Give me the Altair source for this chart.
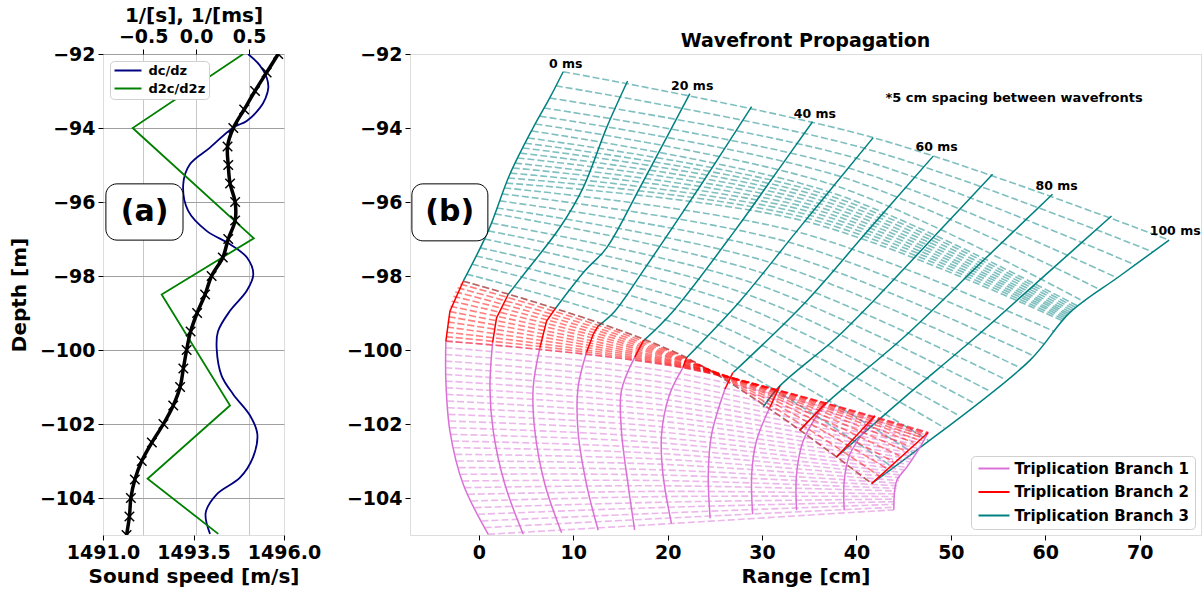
import altair as alt
import pandas as pd

FONT = "DejaVu Sans"

# ---------------- Panel (a) data ----------------
speed_depth = [-92.0, -92.5, -93.0, -93.5, -94.0, -94.5, -95.0, -95.5, -96.0, -96.5, -97.0, -97.5,
               -98.0, -98.5, -99.0, -99.5, -100.0, -100.5, -101.0, -101.5, -102.0, -102.5, -103.0,
               -103.5, -104.0, -104.5, -105.0]
speed_vals = [1495.84, 1495.52, 1495.2, 1494.9, 1494.6, 1494.44, 1494.46, 1494.51, 1494.65, 1494.65,
              1494.46, 1494.31, 1494.0, 1493.82, 1493.6, 1493.42, 1493.31, 1493.22, 1493.13, 1492.94,
              1492.67, 1492.35, 1492.07, 1491.88, 1491.77, 1491.73, 1491.65]

dc_depth = [-92.0, -92.3, -92.64, -92.91, -93.2, -93.45, -93.81, -93.99, -94.53, -94.98, -95.52, -96.24,
            -96.78, -97.14, -97.5, -97.95, -98.4, -98.94, -99.5, -99.97, -100.7, -101.2, -101.77,
            -102.27, -102.9, -103.45, -103.9, -104.4, -104.97]
dc_vals = [0.49, 0.60, 0.667, 0.682, 0.655, 0.604, 0.478, 0.348, 0.131, -0.059, -0.122, -0.075,
           0.099, 0.32, 0.48, 0.54, 0.478, 0.32, 0.206, 0.194, 0.241, 0.351, 0.509,
           0.578, 0.537, 0.414, 0.194, 0.09, 0.131]

d2_depth = [-92.0, -94.0, -96.98, -98.5, -101.5, -103.48, -104.97]
d2_vals = [0.445, -0.60, 0.545, -0.326, 0.32, -0.459, 0.209]

series_names = ["dc/dz", "d2c/d2z"]
series_colors = ["navy", "green"]

# ---------------- Panel (b) data ----------------
teal_wf_x = [[8.93, 7.52, 5.75, 3.28, 0.99, -1.66], [15.75, 13.53, 11.05, 8.58, 5.05, 3.1],
             [22.35, 19.88, 17.06, 13.53, 11.23, 8.05], [28.89, 23.1, 17.4, 14.4, 12.64],
             [35.35, 31.89, 27.1, 20.58, 17.4], [41.77, 33.7, 27.65, 22.0], [48.13, 41.2, 34.7, 26.94],
             [54.42, 48.8, 41.77, 37.89, 31.89, 30.12], [60.77, 53.4, 44.95, 36.9, 34.0],
             [67.02, 60.5, 52.54, 45.0, 37.89], [73.12, 67.9, 62.6, 58.37, 46.0, 41.6]]
teal_wf_d = [[-92.48, -93.18, -93.99, -95.25, -96.78, -98.14], [-92.73, -93.99, -95.61, -96.69, -97.86, -98.5],
             [-93.07, -94.26, -95.61, -97.24, -97.86, -98.9], [-93.42, -95.7, -97.86, -98.95, -99.35],
             [-93.83, -95.07, -96.78, -98.95, -99.76], [-94.26, -96.78, -98.68, -100.21],
             [-94.76, -96.78, -98.68, -100.61], [-95.25, -96.78, -98.68, -99.67, -100.97, -101.54],
             [-95.79, -97.59, -99.67, -101.42, -102.17], [-96.38, -97.86, -99.67, -101.3, -102.89],
             [-97.03, -98.0, -98.99, -100.28, -102.78, -103.61]]

pink_wf_x = [[0.99, -1.66, -3.07, -3.5, -3.5], [4.7, 2.75, 1.52, 1.17, 1.45], [8.76, 6.99, 5.93, 5.75, 6.46],
             [12.64, 11.4, 10.5, 10.5, 11.4], [16.5, 15.8, 15.1, 15.1, 16.5], [20.4, 19.5, 19.35, 20.2, 21.6],
             [24.5, 24.3, 24.65, 26.06], [29.0, 28.9, 29.4, 30.8], [33.65, 33.65, 34.35, 36.1, 36.8],
             [38.7, 38.7, 39.3, 41.07, 41.95], [43.96, 44.25, 45.3, 46.7, 47.6]]
pink_wf_d = [[-104.98, -103.63, -102.19, -100.84, -99.76], [-104.98, -103.63, -102.19, -101.02, -99.8],
             [-104.94, -103.63, -102.19, -101.02, -99.94], [-104.87, -103.63, -102.19, -101.02, -100.07],
             [-104.86, -103.63, -102.19, -101.1, -100.2], [-104.69, -103.36, -102.28, -101.2, -100.48],
             [-104.55, -103.36, -102.28, -101.06], [-104.44, -103.36, -102.46, -101.56],
             [-104.33, -103.36, -102.46, -101.65, -101.42], [-104.33, -103.54, -102.82, -102.1, -101.78],
             [-104.32, -103.54, -103.18, -102.64, -102.23]]

red_wf_x = [[-3.5, -3.07, -1.66], [1.45, 1.87, 3.1], [6.46, 7.17, 8.05], [11.4, 12.1, 12.64], [16.5, 17.4],
            [21.6, 22.0], [26.06, 26.9], [30.8, 31.9], [36.8, 34.0], [41.95, 37.89], [47.6, 41.6]]
red_wf_d = [[-99.76, -98.95, -98.14], [-99.8, -99.13, -98.5], [-99.94, -99.22, -98.9], [-100.07, -99.58, -99.35],
            [-100.2, -99.76], [-100.48, -100.21], [-101.06, -100.61], [-101.56, -100.97], [-101.42, -102.17],
            [-101.78, -102.89], [-102.23, -103.61]]

# rays: positions at 0 ms, 50 ms and 100 ms
teal_x0 = [8.93, 8.15, 7.5, 6.9, 6.45, 6.0, 5.6, 5.2, 4.9, 4.65, 4.4, 4.1, 3.85, 3.6, 3.35, 3.1, 2.9, 2.7,
           2.45, 2.2, 1.9, 1.7, 1.35, 1.0, 0.6, 0.15, -0.3, -0.75, -1.3, -1.66]
teal_d0 = [-92.48, -92.86, -93.19, -93.46, -93.68, -93.89, -94.08, -94.27, -94.41, -94.54, -94.68, -94.81,
           -94.95, -95.08, -95.22, -95.35, -95.49, -95.62, -95.78, -95.97, -96.16, -96.32, -96.57, -96.78,
           -97.0, -97.24, -97.46, -97.68, -97.95, -98.14]
teal_x5 = [41.77, 40.85, 40.0, 39.15, 38.4, 37.65, 37.05, 36.8, 36.55, 36.3, 36.05, 35.8, 35.55, 35.3, 35.05,
           34.8, 34.55, 33.65, 32.75, 31.85, 30.95, 30.05, 29.15, 28.25, 27.35, 26.35, 25.35, 24.25, 23.1, 22.0]
teal_d5 = [-94.26, -94.55, -94.82, -95.08, -95.32, -95.55, -95.72, -95.8, -95.88, -95.96, -96.04, -96.12,
           -96.2, -96.28, -96.36, -96.44, -96.52, -96.8, -97.08, -97.36, -97.64, -97.92, -98.2, -98.48,
           -98.76, -99.04, -99.32, -99.62, -99.92, -100.21]
teal_x10 = [73.12, 71.4, 69.5, 67.6, 65.9, 64.15, 63.5, 63.3, 63.1, 62.9, 62.7, 62.55, 62.45, 62.3, 62.2,
            62.05, 61.9, 60.95, 59.85, 58.75, 57.35, 55.8, 54.2, 52.55, 50.9, 49.3, 47.6, 46.0, 43.9, 41.6]
teal_d10 = [-97.03, -97.35, -97.7, -98.05, -98.38, -98.7, -98.82, -98.86, -98.9, -98.94, -98.98, -99.02,
            -99.06, -99.1, -99.14, -99.18, -99.22, -99.5, -99.83, -100.16, -100.48, -100.8, -101.12, -101.45,
            -101.78, -102.1, -102.44, -102.78, -103.18, -103.61]

red_x0 = [-1.66, -1.95, -2.25, -2.5, -2.7, -2.88, -3.02, -3.1, -3.2, -3.3, -3.38, -3.44, -3.48, -3.5]
red_d0 = [-98.14, -98.22, -98.32, -98.43, -98.55, -98.68, -98.82, -98.96, -99.1, -99.24, -99.38, -99.52,
          -99.64, -99.76]
red_x5 = [22.0, 21.97, 21.94, 21.91, 21.88, 21.85, 21.82, 21.78, 21.75, 21.72, 21.69, 21.66, 21.63, 21.6]
red_d5 = [-100.21, -100.23, -100.25, -100.27, -100.29, -100.31, -100.33, -100.36, -100.38, -100.4, -100.42,
          -100.44, -100.46, -100.48]
red_x10 = [41.6, 42.4, 43.2, 43.9, 44.55, 45.1, 45.6, 46.05, 46.45, 46.8, 47.1, 47.35, 47.5, 47.6]
red_d10 = [-103.61, -103.4, -103.2, -103.02, -102.86, -102.72, -102.6, -102.5, -102.42, -102.36, -102.31,
           -102.27, -102.25, -102.23]

pink_x0 = [-3.5, -3.52, -3.54, -3.55, -3.55, -3.54, -3.5, -3.46, -3.41, -3.35, -3.28, -3.21, -3.14, -3.08,
           -2.98, -2.82, -2.66, -2.49, -2.31, -2.12, -1.93, -1.74, -1.5, -1.15, -0.8, -0.43, -0.07, 0.29, 0.64, 0.99]
pink_d0 = [-99.76, -99.94, -100.12, -100.3, -100.48, -100.66, -100.84, -101.02, -101.2, -101.38, -101.56,
           -101.74, -101.92, -102.1, -102.28, -102.46, -102.64, -102.82, -103.0, -103.18, -103.36, -103.54,
           -103.72, -103.9, -104.08, -104.26, -104.44, -104.62, -104.8, -104.98]
pink_x5 = [21.6, 21.25, 20.95, 20.68, 20.42, 20.2, 20.05, 19.9, 19.78, 19.66, 19.55, 19.45, 19.38, 19.34,
           19.32, 19.32, 19.33, 19.36, 19.4, 19.45, 19.5, 19.58, 19.67, 19.77, 19.88, 19.99, 20.1, 20.2, 20.3, 20.4]
pink_d5 = [-100.48, -100.63, -100.77, -100.92, -101.06, -101.21, -101.35, -101.5, -101.64, -101.79, -101.93,
           -102.08, -102.22, -102.37, -102.51, -102.66, -102.8, -102.95, -103.09, -103.24, -103.38, -103.53,
           -103.67, -103.82, -103.96, -104.11, -104.25, -104.4, -104.54, -104.69]
pink_x10 = [47.6, 47.45, 47.28, 47.1, 46.93, 46.76, 46.55, 46.37, 46.16, 45.98, 45.8, 45.6, 45.4, 45.2, 45.05,
            44.9, 44.75, 44.6, 44.5, 44.42, 44.34, 44.26, 44.18, 44.1, 44.06, 44.03, 44.0, 43.98, 43.97, 43.96]
pink_d10 = [-102.23, -102.3, -102.37, -102.45, -102.52, -102.59, -102.66, -102.73, -102.81, -102.88, -102.95,
            -103.02, -103.09, -103.17, -103.24, -103.31, -103.38, -103.45, -103.53, -103.6, -103.67, -103.74,
            -103.81, -103.89, -103.96, -104.03, -104.1, -104.17, -104.25, -104.32]

branch_names = ["Triplication Branch 1", "Triplication Branch 2", "Triplication Branch 3"]
branch_colors = ["orchid", "red", "teal"]

time_label_text = ["0 ms", "20 ms", "40 ms", "60 ms", "80 ms", "100 ms"]
time_label_x = [9.2, 22.6, 35.6, 48.5, 61.2, 73.76]
time_label_d = [-92.26, -92.86, -93.61, -94.51, -95.57, -96.78]

note_text = ["*5 cm spacing between wavefronts"]
note_x = [56.7]
note_d = [-93.18]

# ---------------- tables ----------------
df_speed = pd.DataFrame({"c": speed_vals, "d": speed_depth, "k": list(range(len(speed_vals)))})
df_dc = pd.DataFrame({"v": dc_vals, "d": dc_depth, "k": list(range(len(dc_vals))), "series": series_names[0]})
df_d2 = pd.DataFrame({"v": d2_vals, "d": d2_depth, "k": list(range(len(d2_vals))), "series": series_names[1]})
df_box_a = pd.DataFrame({"c1": [1491.08], "c2": [1493.21], "d1": [-95.51], "d2": [-97.03],
                         "c": [1492.15], "d": [-96.28], "t": ["(a)"]})


def wf_table(xs, ds, branch):
    rows = []
    for i, (xl, dl) in enumerate(zip(xs, ds)):
        for k, (x, d) in enumerate(zip(xl, dl)):
            rows.append({"id": f"{branch}_{i}", "k": k, "x": x, "d": d, "branch": branch})
    return pd.DataFrame(rows)


def ray_table(x0, d0, x5, d5, x10, d10, name):
    rows = []
    for i in range(len(x0)):
        for k, (x, d) in enumerate([(x0[i], d0[i]), (x5[i], d5[i]), (x10[i], d10[i])]):
            rows.append({"id": f"{name}_{i}", "k": k, "x": x, "d": d})
    return pd.DataFrame(rows)


df_teal_wf = wf_table(teal_wf_x, teal_wf_d, branch_names[2])
df_pink_wf = wf_table(pink_wf_x, pink_wf_d, branch_names[0])
df_red_wf = wf_table(red_wf_x, red_wf_d, branch_names[1])
df_teal_ray = ray_table(teal_x0, teal_d0, teal_x5, teal_d5, teal_x10, teal_d10, "t")
df_pink_ray = ray_table(pink_x0, pink_d0, pink_x5, pink_d5, pink_x10, pink_d10, "p")
df_red_ray = ray_table(red_x0, red_d0, red_x5, red_d5, red_x10, red_d10, "r")
df_labels = pd.DataFrame({"x": time_label_x, "d": time_label_d, "t": time_label_text})
df_note = pd.DataFrame({"x": note_x, "d": note_d, "t": note_text})
df_box_b = pd.DataFrame({"x1": [-7.1], "x2": [0.95], "d1": [-95.51], "d2": [-97.05],
                         "x": [-3.1], "d": [-96.28], "t": ["(b)"]})

# ---------------- scales / axes ----------------
depth_ticks = [-104, -102, -100, -98, -96, -94, -92]
yscale = alt.Scale(domain=[-105, -92], nice=False, zero=False)

axis_common = dict(labelFont=FONT, labelFontWeight="bold", labelFontSize=19, labelColor="black",
                   titleFont=FONT, titleFontWeight="bold", titleFontSize=20, titleColor="black",
                   tickColor="black", tickSize=5, domain=False, labelPadding=3,
                   labelFlush=False, labelOverlap=False, labelBound=False)

ya_axis = alt.Axis(values=depth_ticks, format="d", title="Depth [m]", grid=True, gridColor="#a0a0a0",
                   gridWidth=1, titlePadding=10, **axis_common)
yb_axis = alt.Axis(values=depth_ticks, format="d", title=None, grid=False, **axis_common)

speed_axis = alt.Axis(values=[1491, 1493.5, 1496], format=".1f", title="Sound speed [m/s]", orient="bottom",
                      grid=False, titlePadding=4, **axis_common)
top_axis = alt.Axis(values=[-0.5, 0.0, 0.5], format=".1f", title="1/[s], 1/[ms]", orient="top",
                    grid=True, gridColor="#c8c8c8", gridWidth=1, titlePadding=2, **axis_common)

speed_scale = alt.Scale(domain=[1491, 1496], nice=False, zero=False)
top_scale = alt.Scale(domain=[-0.88, 0.83], nice=False, zero=False)

Ya = alt.Y("d:Q", scale=yscale, axis=ya_axis)

series_scale = alt.Scale(domain=series_names, range=series_colors)
legend_a = alt.Legend(title=None, orient="top-left", offset=7, labelFont=FONT, labelFontWeight="bold",
                      labelFontSize=13, labelColor="black", labelLimit=0, symbolType="M-2.7,0L2.7,0",
                      symbolSize=100, symbolStrokeWidth=2, symbolOffset=8.5, rowPadding=4, padding=3,
                      labelOffset=14, strokeColor="#d0d0d0", fillColor="white", cornerRadius=4)

# ---------------- panel (a) ----------------
dc_line = alt.Chart(df_dc).mark_line(strokeWidth=1.8, interpolate="catmull-rom", clip=True).encode(
    x=alt.X("v:Q", scale=top_scale, axis=top_axis), y=Ya, order="k:Q",
    color=alt.Color("series:N", scale=series_scale, legend=legend_a))
d2_line = alt.Chart(df_d2).mark_line(strokeWidth=1.8, clip=True).encode(
    x=alt.X("v:Q", scale=top_scale, axis=top_axis), y=Ya, order="k:Q",
    color=alt.Color("series:N", scale=series_scale, legend=legend_a))
top_layers = alt.layer(dc_line, d2_line)

sp_line = alt.Chart(df_speed).mark_line(color="black", strokeWidth=3.5, interpolate="catmull-rom", clip=True).encode(
    x=alt.X("c:Q", scale=speed_scale, axis=speed_axis), y=Ya, order="k:Q")
sp_pts = alt.Chart(df_speed).mark_point(shape="M-1,-1L1,1M-1,1L1,-1", filled=False, color="black", size=90,
                                        strokeWidth=1.5, opacity=1, clip=True).encode(
    x=alt.X("c:Q", scale=speed_scale, axis=speed_axis), y=Ya)
box_a = alt.Chart(df_box_a).mark_rect(fill="white", stroke="black", strokeWidth=1, cornerRadius=11).encode(
    x=alt.X("c1:Q", scale=speed_scale, axis=speed_axis), x2="c2",
    y=alt.Y("d1:Q", scale=yscale, axis=ya_axis), y2="d2")
txt_a = alt.Chart(df_box_a).mark_text(font=FONT, fontWeight="bold", fontSize=30, color="black",
                                      baseline="middle", align="center").encode(
    x=alt.X("c:Q", scale=speed_scale, axis=speed_axis), y=Ya, text="t:N")
bottom_layers = alt.layer(sp_line, sp_pts, box_a, txt_a)

panel_a = alt.layer(top_layers, bottom_layers).resolve_scale(x="independent").properties(width=181, height=481)

# ---------------- panel (b) ----------------
xb_scale = alt.Scale(domain=[-7.3, 76.5], nice=False, zero=False)
xb_axis = alt.Axis(values=[0, 10, 20, 30, 40, 50, 60, 70], format="d", title="Range [cm]", grid=False,
                   titlePadding=4, **axis_common)
Xb = alt.X("x:Q", scale=xb_scale, axis=xb_axis)
Yb = alt.Y("d:Q", scale=yscale, axis=yb_axis)

branch_scale = alt.Scale(domain=branch_names, range=branch_colors)
legend_b = alt.Legend(title=None, orient="bottom-right", offset=6, labelFont=FONT, labelFontWeight="bold",
                      labelFontSize=15, labelColor="black", labelLimit=0, symbolType="M-3.1,0L3.1,0",
                      symbolSize=100, symbolStrokeWidth=2, symbolOffset=10.5, rowPadding=7.5, padding=5,
                      labelOffset=13, strokeColor="#d0d0d0", fillColor="white", cornerRadius=4)
Cb = alt.Color("branch:N", scale=branch_scale, legend=legend_b)

dash = [7, 3]
teal_rays = alt.Chart(df_teal_ray).mark_line(color="teal", opacity=0.5, strokeWidth=1.6, strokeDash=dash,
                                             interpolate="catmull-rom", clip=True).encode(
    x=Xb, y=Yb, detail="id:N", order="k:Q")
teal_wf = alt.Chart(df_teal_wf).mark_line(strokeWidth=1.5, interpolate="catmull-rom", clip=True).encode(
    x=Xb, y=Yb, detail="id:N", order="k:Q", color=Cb)
pink_rays = alt.Chart(df_pink_ray).mark_line(color="orchid", opacity=0.5, strokeWidth=1.6, strokeDash=dash,
                                             interpolate="catmull-rom", clip=True).encode(
    x=Xb, y=Yb, detail="id:N", order="k:Q")
pink_wf = alt.Chart(df_pink_wf).mark_line(strokeWidth=1.5, interpolate="catmull-rom", clip=True).encode(
    x=Xb, y=Yb, detail="id:N", order="k:Q", color=Cb)
red_rays = alt.Chart(df_red_ray).mark_line(color="red", opacity=0.5, strokeWidth=1.6, strokeDash=dash,
                                           interpolate="catmull-rom", clip=True).encode(
    x=Xb, y=Yb, detail="id:N", order="k:Q")
red_wf = alt.Chart(df_red_wf).mark_line(strokeWidth=1.5, clip=True).encode(
    x=Xb, y=Yb, detail="id:N", order="k:Q", color=Cb)
labels = alt.Chart(df_labels).mark_text(font=FONT, fontWeight="bold", fontSize=12.5, color="black",
                                        align="center", baseline="middle").encode(x=Xb, y=Yb, text="t:N")
note = alt.Chart(df_note).mark_text(font=FONT, fontWeight="bold", fontSize=13, color="black",
                                    align="center", baseline="middle").encode(x=Xb, y=Yb, text="t:N")
box_b = alt.Chart(df_box_b).mark_rect(fill="white", stroke="black", strokeWidth=1, cornerRadius=11).encode(
    x=alt.X("x1:Q", scale=xb_scale, axis=xb_axis), x2="x2",
    y=alt.Y("d1:Q", scale=yscale, axis=yb_axis), y2="d2")
txt_b = alt.Chart(df_box_b).mark_text(font=FONT, fontWeight="bold", fontSize=30, color="black",
                                      baseline="middle", align="center").encode(x=Xb, y=Yb, text="t:N")

panel_b = alt.layer(teal_rays, teal_wf, pink_rays, pink_wf, red_rays, red_wf, labels, note, box_b, txt_b).properties(
    width=791, height=481,
    title=alt.TitleParams("Wavefront Propagation", font=FONT, fontSize=19, fontWeight="bold", color="black",
                          anchor="middle", offset=4, dy=10))

chart = alt.hconcat(panel_a, panel_b, spacing=126, bounds="flush").resolve_scale(
    color="independent", x="independent", y="independent").properties(
    padding={"left": 8, "top": 4, "right": 0, "bottom": 0}).configure_view(
    stroke="#333333", strokeWidth=1).configure(background="white")

chart.save("out.html", embed_options={"renderer": "svg", "actions": False})
